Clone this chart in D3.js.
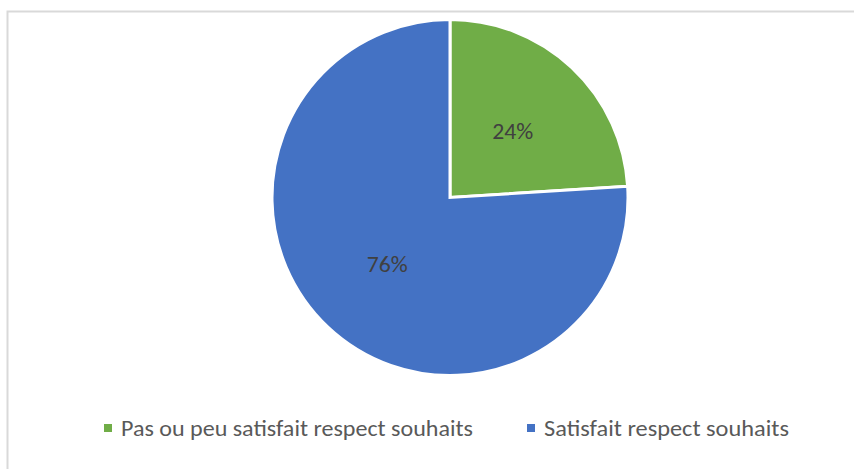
<!DOCTYPE html>
<html>
<head>
<meta charset="utf-8">
<script src="https://cdn.jsdelivr.net/npm/d3@7"></script>
<style>
	body { margin: 0; background: #fff; }
	svg { display: block; }
</style>
</head>
<body>
<svg id="chart" width="854" height="469"></svg>
<script>
"use strict";

// Chart data
const categories = ["Pas ou peu satisfait respect souhaits", "Satisfait respect souhaits"];
const values = [24, 76];
const colors = ["#70AD47", "#4472C4"];

const svg = d3.select("#chart");
const font = "Carlito, Calibri, Lato, sans-serif";

// chart area frame (only top and left visible in the picture)
svg.append("path")
	.attr("d", "M7.5,469 V11.5 H854")
	.attr("fill", "none")
	.attr("stroke", "#d9d9d9")
	.attr("stroke-width", 2);

const cx = 450, cy = 197.5, r = 178;

const pie = d3.pie().sort(null).value(d => d.value);
const arcs = pie(categories.map((c, i) => ({name: c, value: values[i], color: colors[i]})));
const arc = d3.arc().innerRadius(0).outerRadius(r);

const g = svg.append("g").attr("transform", `translate(${cx},${cy})`);

g.selectAll("path")
	.data(arcs)
	.enter()
	.append("path")
	.attr("d", arc)
	.attr("fill", d => d.data.color)
	.attr("stroke", "#fff")
	.attr("stroke-width", 3)
	.attr("stroke-linejoin", "miter");

// data labels
const labelArc = d3.arc().innerRadius(r * 0.515).outerRadius(r * 0.515);
g.selectAll("text")
	.data(arcs)
	.enter()
	.append("text")
	.attr("x", d => labelArc.centroid(d)[0])
	.attr("y", d => labelArc.centroid(d)[1])
	.attr("text-anchor", "middle")
	.attr("dominant-baseline", "central")
	.attr("textLength", 41)
	.attr("lengthAdjust", "spacingAndGlyphs")
	.style("font-family", font)
	.style("font-size", "23px")
	.style("fill", "#404040")
	.text(d => d.data.value + "%");

// legend
const legendX = [104, 527];
const legendW = [352, 245];
const leg = svg.selectAll(".legend")
	.data(categories)
	.enter()
	.append("g")
	.attr("class", "legend")
	.attr("transform", (d, i) => `translate(${legendX[i]},428)`);

leg.append("rect")
	.attr("x", 0)
	.attr("y", -4)
	.attr("width", 8)
	.attr("height", 8)
	.attr("fill", (d, i) => colors[i]);

leg.append("text")
	.attr("x", 17)
	.attr("y", 0)
	.attr("dominant-baseline", "central")
	.attr("textLength", (d, i) => legendW[i])
	.attr("lengthAdjust", "spacingAndGlyphs")
	.style("font-family", font)
	.style("font-size", "22px")
	.style("fill", "#595959")
	.text(d => d);
</script>
</body>
</html>
